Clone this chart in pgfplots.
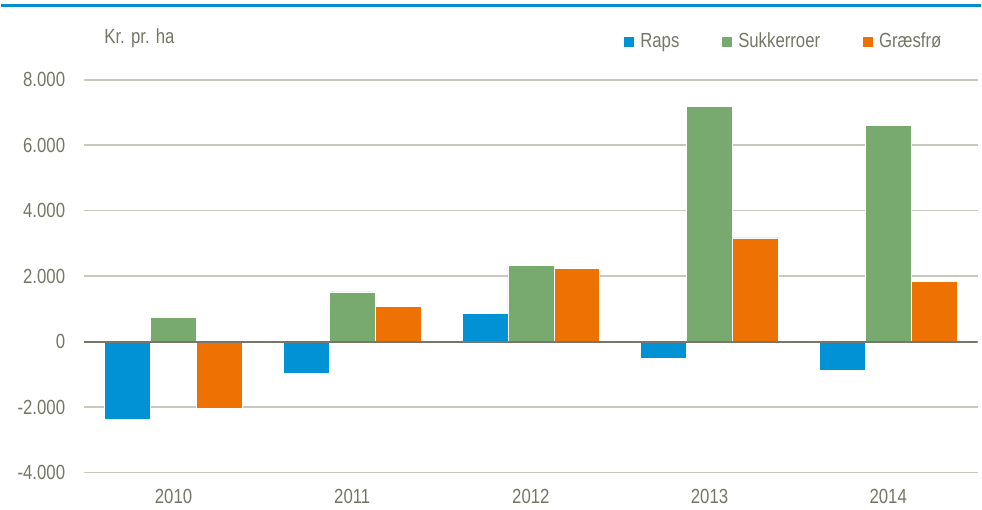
\documentclass[border=0pt]{standalone}
\usepackage{pgfplots}
\pgfplotsset{compat=1.18}
\usepackage{fontspec}
\setmainfont{Liberation Sans}[FakeStretch=0.82]
\definecolor{cblue}{RGB}{0,146,212}
\definecolor{cgreen}{RGB}{120,169,111}
\definecolor{corange}{RGB}{238,114,3}
\definecolor{ctext}{RGB}{118,118,104}
\definecolor{cgrid}{RGB}{200,200,190}
\definecolor{czero}{RGB}{120,118,106}
\definecolor{ctop}{RGB}{0,140,205}
\begin{document}
\fontsize{20.5bp}{24bp}\selectfont
\begin{tikzpicture}
\path (0,0) rectangle (982bp,511bp);
\draw[ctop, line width=3bp] (0,505.5bp) -- (982bp,505.5bp);
\node[anchor=west, text=ctext, inner sep=0pt] at (103bp,473bp) {Kr. pr. ha};
\begin{axis}[
  at={(83bp,37bp)}, anchor=south west,
  scale only axis, width=896bp, height=394bp,
  xmin=-0.5, xmax=4.5, ymin=-4000, ymax=8000,
  xtick={0,1,2,3,4}, xticklabels={2010,2011,2012,2013,2014},
  ytick={-4000,-2000,0,2000,4000,6000,8000},
  major tick length=0pt,
  axis line style={draw=none},
  ymajorgrids, grid style={cgrid, line width=1.5bp},
  tick label style={text=ctext, font=\fontsize{20.5bp}{24bp}\selectfont},
  /pgf/number format/assume math mode=true,
  /pgf/number format/.cd, fixed, 1000 sep={.}, /pgfplots/.cd,
  yticklabel style={anchor=east, inner sep=0pt, xshift=-19bp},
  xticklabel style={anchor=north, inner sep=0pt, yshift=-17bp},
  ybar, bar width=0.257,
  legend columns=3,
  legend style={draw=none, fill=none, at={(0.962,1.096)}, anchor=east,
    font=\fontsize{20.5bp}{24bp}\selectfont, text=ctext,
    /tikz/every even column/.append style={column sep=41bp},
    inner sep=0pt},
  legend image code/.code={\fill[#1, draw=none] (0bp,-5bp) rectangle (10bp,5bp); \path[draw=none, fill=none] (14bp,0bp) circle (0bp);},
]
\addplot[fill=cblue, draw=white, line width=0.6bp, bar shift=-0.257] coordinates {(0,-2380) (1,-980) (2,870) (3,-500) (4,-890)};
\addplot[fill=cgreen, draw=white, line width=0.6bp, bar shift=0] coordinates {(0,750) (1,1520) (2,2340) (3,7180) (4,6600)};
\addplot[fill=corange, draw=white, line width=0.6bp, bar shift=0.257] coordinates {(0,-2050) (1,1080) (2,2230) (3,3170) (4,1850)};
\legend{Raps,Sukkerroer,Græsfrø}
\draw[czero, line width=2bp] (axis cs:-0.5,0) -- (axis cs:4.5,0);
\end{axis}
\end{tikzpicture}
\end{document}
